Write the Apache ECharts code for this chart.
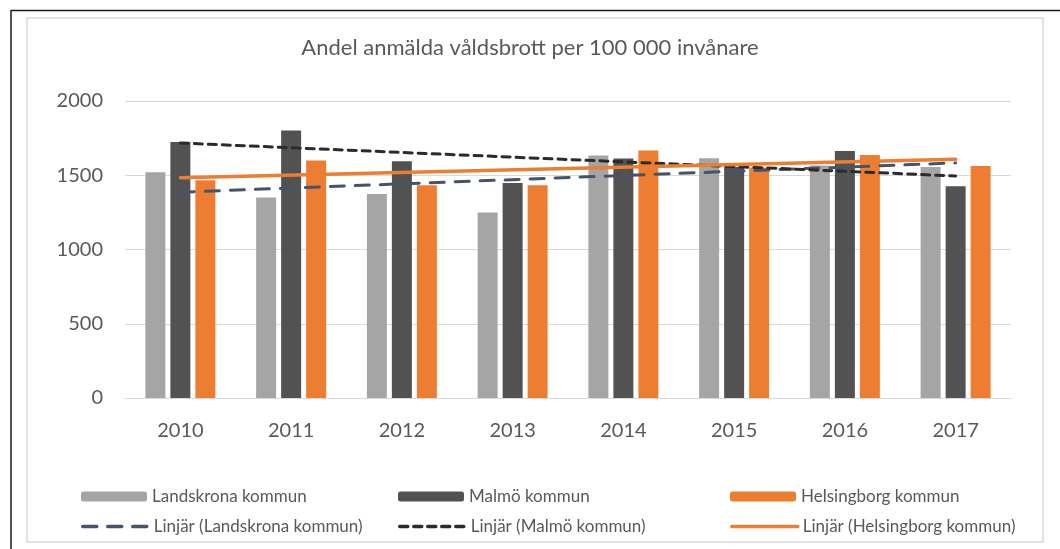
<!DOCTYPE html>
<html>
<head>
<meta charset="utf-8">
<script src="https://cdn.jsdelivr.net/npm/echarts@6/dist/echarts.min.js"></script>
<style>
html,body{margin:0;padding:0;background:#fff;}
#c{width:1060px;height:549px;}
</style>
</head>
<body>
<div id="c"></div>
<script>
const years = ['2010','2011','2012','2013','2014','2015','2016','2017'];
const landskrona = [1520, 1350, 1374, 1249, 1633, 1614, 1565, 1556];
const malmo = [1724, 1801, 1594, 1448, 1612, 1556, 1664, 1426];
const helsingborg = [1466, 1599, 1433, 1433, 1666, 1552, 1637, 1563];
// trend line endpoints (2010, 2017)
const trendLandskrona = [1386, 1583];
const trendMalmo = [1717, 1495];
const trendHelsingborg = [1484, 1608];
const yTicks = [0, 500, 1000, 1500, 2000];

function endpoints(pair){
  const a = years.map(() => null);
  a[0] = pair[0];
  a[a.length-1] = pair[1];
  return a;
}

const font = 'Lato, "Open Sans", sans-serif';
const txt = '#595959';
const chart = echarts.init(document.getElementById('c'), null, {renderer:'canvas'});

const legendBase = {
  itemWidth: 66, itemHeight: 10, itemGap: 5,
  textStyle: {fontFamily: font, fontSize: 17, color: txt},
  selectedMode: false
};
const lineLegend = Object.assign({}, legendBase, {
  itemHeight: 14,
  itemStyle: {color: 'rgba(0,0,0,0)', borderWidth: 0, opacity: 0},
  lineStyle: {width: 3.5, cap: 'round'}
});

chart.setOption({
  animation: false,
  backgroundColor: '#fff',
  title: {
    text: 'Andel anmälda våldsbrott per 100 000 invånare',
    left: 'center', top: 32,
    textStyle: {fontFamily: font, fontSize: 22, fontWeight: 'normal', color: txt}
  },
  graphic: [
    {type:'rect', shape:{x:27, y:18, width:1016, height:524}, style:{fill:'none', stroke:'#D9D9D9', lineWidth:1.5}, silent:true, z:-1},
    {type:'line', shape:{x1:11, y1:10.5, x2:1060, y2:10.5}, style:{stroke:'#1a1a1a', lineWidth:1.5}, silent:true},
    {type:'line', shape:{x1:11, y1:10, x2:11, y2:549}, style:{stroke:'#1a1a1a', lineWidth:1.5}, silent:true}
  ],
  grid: {left:125, right:49, top:101, bottom:151, containLabel:false},
  legend: [
    Object.assign({}, legendBase, {left:76, top:483, data:['Landskrona kommun']}),
    Object.assign({}, legendBase, {left:393, top:483, data:['Malmö kommun']}),
    Object.assign({}, legendBase, {left:725, top:483, data:['Helsingborg kommun']}),
    Object.assign({}, lineLegend, {left:76, top:513, data:['Linjär (Landskrona kommun)']}),
    Object.assign({}, lineLegend, {left:393, top:513, data:['Linjär (Malmö kommun)']}),
    Object.assign({}, lineLegend, {left:725, top:513, data:['Linjär (Helsingborg kommun)']})
  ],
  xAxis: {
    type: 'category', data: years,
    axisLine: {lineStyle: {color:'#D9D9D9', width:1}},
    axisTick: {show:false},
    axisLabel: {fontFamily: font, fontSize: 20, color: txt, margin: 23}
  },
  yAxis: {
    type: 'value', min: yTicks[0], max: yTicks[yTicks.length-1], interval: 500,
    axisLine: {show:false}, axisTick: {show:false},
    splitLine: {lineStyle: {color:'#D9D9D9', width:1}},
    axisLabel: {fontFamily: font, fontSize: 20, color: txt, margin: 22, formatter: v => String(v)}
  },
  series: [
    {name:'Landskrona kommun', type:'bar', data: landskrona, barWidth: 20, barGap:'25%', itemStyle:{color:'#A5A5A5'}},
    {name:'Malmö kommun', type:'bar', data: malmo, barWidth: 20, barGap:'25%', itemStyle:{color:'#525252'}},
    {name:'Helsingborg kommun', type:'bar', data: helsingborg, barWidth: 20, barGap:'25%', itemStyle:{color:'#ED7D31'}},
    {name:'Linjär (Landskrona kommun)', type:'line', data: endpoints(trendLandskrona), connectNulls:true, symbol:'none', z:5,
      itemStyle:{color:'#44546A'},
      lineStyle:{color:'#44546A', width:3, type:[14,11], cap:'round'}},
    {name:'Linjär (Malmö kommun)', type:'line', data: endpoints(trendMalmo), connectNulls:true, symbol:'none', z:5,
      itemStyle:{color:'#2b2b2b'},
      lineStyle:{color:'#2b2b2b', width:3, type:[8,6], cap:'round'}},
    {name:'Linjär (Helsingborg kommun)', type:'line', data: endpoints(trendHelsingborg), connectNulls:true, symbol:'none', z:5,
      itemStyle:{color:'#ED7D31'},
      lineStyle:{color:'#ED7D31', width:3.5, cap:'round'}}
  ]
});
</script>
</body>
</html>
